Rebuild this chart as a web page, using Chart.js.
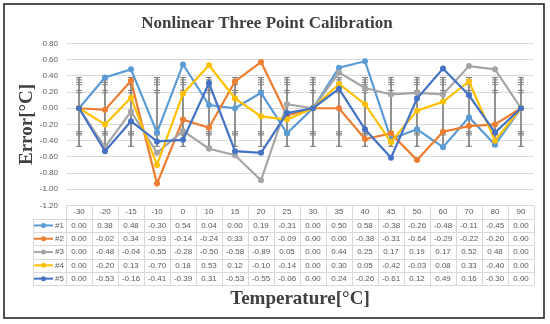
<!DOCTYPE html>
<html>
<head>
<meta charset="utf-8">
<script src="https://cdn.jsdelivr.net/npm/chart.js@4.4.1/dist/chart.umd.min.js"></script>
<style>
  html, body { margin: 0; padding: 0; background: #fff; }
  #wrap { position: relative; width: 550px; height: 324px; }
</style>
</head>
<body>
<div id="wrap"><canvas id="calChart" width="550" height="324"></canvas></div>
<script>
// Categories (temperature points)
const temps = ['-30', '-20', '-15', '-10', '0', '10', '15', '20', '25', '30', '35', '40', '45', '50', '60', '70', '80', '90'];

// Error of each sensor
const s1 = [0.00, 0.38, 0.48, -0.30, 0.54, 0.04, 0.00, 0.19, -0.31, 0.00, 0.50, 0.58, -0.38, -0.26, -0.48, -0.11, -0.45, 0.00];
const s2 = [0.00, -0.02, 0.34, -0.93, -0.14, -0.24, 0.33, 0.57, -0.09, 0.00, 0.00, -0.38, -0.31, -0.64, -0.29, -0.22, -0.20, 0.00];
const s3 = [0.00, -0.48, -0.04, -0.55, -0.28, -0.50, -0.58, -0.89, 0.05, 0.00, 0.44, 0.25, 0.17, 0.19, 0.17, 0.52, 0.48, 0.00];
const s4 = [0.00, -0.20, 0.13, -0.70, 0.18, 0.53, 0.12, -0.10, -0.14, 0.00, 0.30, 0.05, -0.42, -0.03, 0.08, 0.33, -0.40, 0.00];
const s5 = [0.00, -0.53, -0.16, -0.41, -0.39, 0.31, -0.53, -0.55, -0.06, 0.00, 0.24, -0.26, -0.61, 0.12, 0.49, 0.16, -0.30, 0.00];

const seriesNames = ['#1', '#2', '#3', '#4', '#5'];
const seriesValues = [s1, s2, s3, s4, s5];
const seriesColors = ['#5b9bd5', '#ed7d31', '#a5a5a5', '#ffc000', '#4472c4'];

// Tolerance band (error bars) and cap levels
const errHigh = 0.38;
const errLow = -0.47;
const capsUpper = [0.38, 0.35, 0.32, 0.29, 0.22, 0.19];
const capsLower = [-0.29, -0.31, -0.33, -0.47];

// Y axis
const yMin = -1.2;
const yMax = 0.8;
const yStep = 0.2;

const serif = '"Liberation Serif", "Times New Roman", serif';
const sans = '"Liberation Sans", Arial, sans-serif';

// Frame + white background
const framePlugin = {
  id: 'frame',
  beforeDraw(chart) {
    const ctx = chart.ctx;
    ctx.save();
    ctx.fillStyle = '#fff';
    ctx.fillRect(0, 0, chart.width, chart.height);
    ctx.restore();
  },
  afterDraw(chart) {
    const ctx = chart.ctx;
    ctx.save();
    ctx.strokeStyle = '#262626';
    ctx.lineWidth = 1.6;
    ctx.strokeRect(4, 4, 540, 314);
    ctx.restore();
  }
};

// Data table under the plot, columns follow the x scale
const dataTablePlugin = {
  id: 'dataTable',
  afterDraw(chart) {
    const ctx = chart.ctx;
    const area = chart.chartArea;
    const x = chart.scales.x;
    const colW = x.getPixelForValue(1) - x.getPixelForValue(0);
    const top = area.bottom;
    const rowH = 13.3;
    const keyLeft = 33;
    const bottom = top + rowH * (seriesNames.length + 1);

    ctx.save();
    ctx.strokeStyle = '#d9d9d9';
    ctx.lineWidth = 1;

    // horizontal lines
    ctx.beginPath();
    ctx.moveTo(area.left, top);
    ctx.lineTo(area.right, top);
    for (let r = 1; r <= seriesNames.length + 1; r++) {
      const y = Math.round(top + r * rowH) + 0.5;
      ctx.moveTo(keyLeft, y);
      ctx.lineTo(area.right, y);
    }
    // vertical lines
    ctx.moveTo(keyLeft + 0.5, top + rowH);
    ctx.lineTo(keyLeft + 0.5, bottom);
    for (let c = 0; c <= temps.length; c++) {
      const xx = Math.round(area.left + c * colW) + 0.5;
      ctx.moveTo(xx, top);
      ctx.lineTo(xx, bottom);
    }
    ctx.stroke();

    ctx.font = '8px ' + sans;
    ctx.fillStyle = '#595959';
    ctx.textAlign = 'center';
    ctx.textBaseline = 'middle';
    temps.forEach((t, i) => {
      ctx.fillText(t, x.getPixelForValue(i), top + rowH / 2);
    });

    seriesValues.forEach((vals, r) => {
      const cy = top + rowH * (r + 1) + rowH / 2;
      // legend key
      ctx.strokeStyle = seriesColors[r];
      ctx.lineWidth = 2;
      ctx.beginPath();
      ctx.moveTo(keyLeft + 1, cy);
      ctx.lineTo(keyLeft + 20, cy);
      ctx.stroke();
      ctx.fillStyle = seriesColors[r];
      ctx.beginPath();
      ctx.arc(keyLeft + 10.5, cy, 2.5, 0, Math.PI * 2);
      ctx.fill();
      ctx.fillStyle = '#595959';
      ctx.textAlign = 'left';
      ctx.fillText(seriesNames[r], keyLeft + 22, cy);
      ctx.textAlign = 'center';
      vals.forEach((v, i) => {
        ctx.fillText(v.toFixed(2), x.getPixelForValue(i), cy);
      });
    });
    ctx.restore();
  }
};

const datasets = [];

seriesValues.forEach((vals, i) => {
  datasets.push({
    type: 'line',
    label: seriesNames[i],
    data: vals,
    borderColor: seriesColors[i],
    backgroundColor: seriesColors[i],
    borderWidth: 2.2,
    pointRadius: 3,
    pointBorderWidth: 0,
    tension: 0,
    order: 5 - i
  });
});

capsUpper.concat(capsLower).forEach(level => {
  datasets.push({
    type: 'line',
    label: 'cap',
    data: temps.map(() => level),
    showLine: false,
    pointStyle: 'line',
    pointRadius: 3,
    borderColor: '#7f7f7f',
    borderWidth: 1,
    order: 9
  });
});

datasets.push({
  type: 'bar',
  label: 'range',
  data: temps.map(() => [errLow, errHigh]),
  backgroundColor: '#8a8a8a',
  barThickness: 1.2,
  order: 10
});

new Chart(document.getElementById('calChart'), {
  data: { labels: temps, datasets: datasets },
  options: {
    responsive: false,
    animation: false,
    layout: { padding: { top: 4, left: 0, right: 16, bottom: 0 } },
    plugins: {
      legend: { display: false },
      tooltip: { enabled: false },
      title: {
        display: true,
        text: 'Nonlinear Three Point Calibration',
        color: '#404040',
        font: { family: serif, size: 17, weight: 'bold' },
        padding: { top: 9, bottom: 10 }
      }
    },
    scales: {
      x: {
        offset: true,
        grid: { display: false },
        border: { display: false },
        ticks: { display: false },
        title: {
          display: true,
          text: 'Temperature[°C]',
          color: '#404040',
          font: { family: serif, size: 19, weight: 'bold' },
          padding: { top: 0, bottom: 14 }
        },
        afterFit(scale) { scale.height = 118.5; }
      },
      y: {
        min: yMin,
        max: yMax,
        ticks: {
          stepSize: yStep,
          padding: 8,
          color: '#595959',
          font: { family: sans, size: 8 },
          callback: v => v.toFixed(2)
        },
        grid: { color: '#d9d9d9', drawTicks: false },
        border: { display: false },
        title: {
          display: true,
          text: 'Error[°C]',
          color: '#404040',
          font: { family: serif, size: 19, weight: 'bold' },
          padding: { top: 16, bottom: 0 }
        },
        afterFit(scale) { scale.width = 66; }
      }
    }
  },
  plugins: [framePlugin, dataTablePlugin]
});
</script>
</body>
</html>
